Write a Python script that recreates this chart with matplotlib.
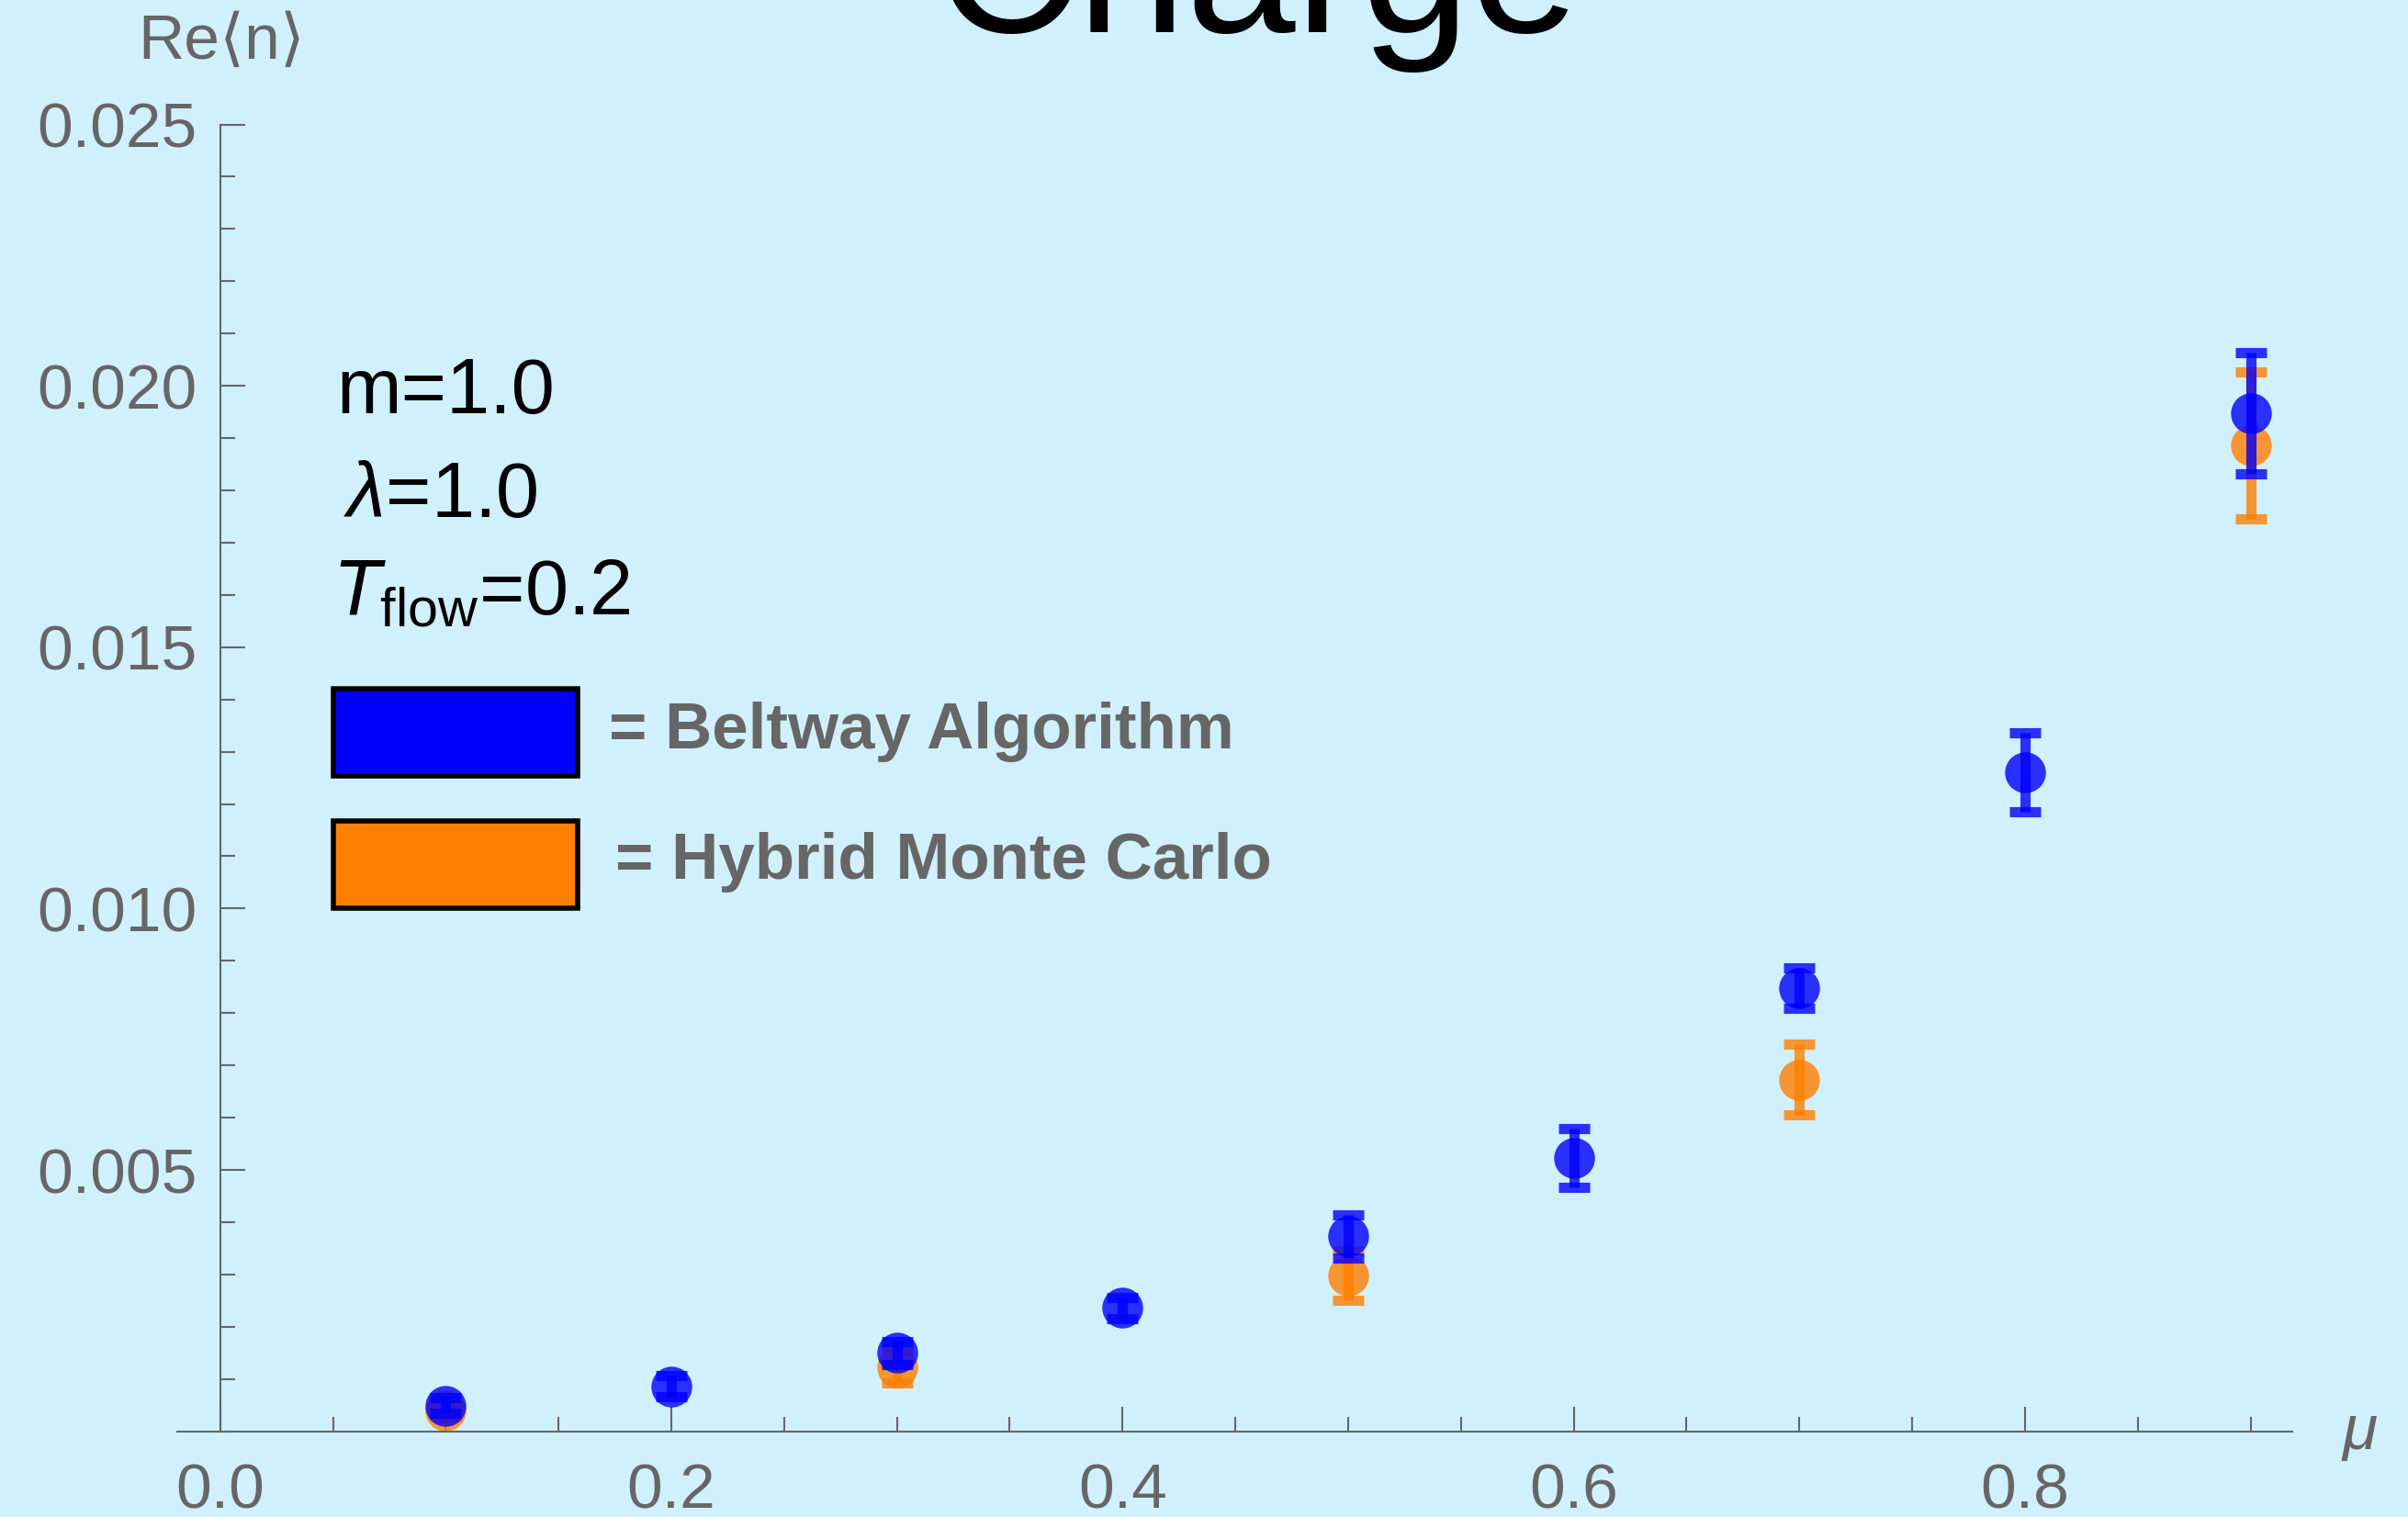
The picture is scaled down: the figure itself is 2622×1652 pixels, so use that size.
import matplotlib
matplotlib.use('Agg')
import matplotlib.pyplot as plt
from matplotlib.patches import Rectangle
from matplotlib.ticker import MultipleLocator, FixedLocator, FormatStrFormatter

plt.rcParams['font.family'] = ['Liberation Sans', 'DejaVu Sans']
plt.rcParams['mathtext.fontset'] = 'custom'
plt.rcParams['mathtext.rm'] = 'Liberation Sans'
plt.rcParams['mathtext.it'] = 'Liberation Sans:italic'

# data
mu_beltway = [0.1, 0.2, 0.3, 0.4, 0.5, 0.6, 0.7, 0.8, 0.9]
n_beltway = [0.00049, 0.00086, 0.00150, 0.00236, 0.00373, 0.00523, 0.00848, 0.01261, 0.01948]
err_beltway = [0.00015, 0.00020, 0.00022, 0.00020, 0.00041, 0.00056, 0.00039, 0.00075, 0.00116]

mu_hmc = [0.1, 0.3, 0.5, 0.7, 0.9]
n_hmc = [0.00039, 0.00123, 0.00298, 0.00673, 0.01886]
err_hmc = [0.00012, 0.00031, 0.00047, 0.00067, 0.00140]

xticks = [0.0, 0.2, 0.4, 0.6, 0.8]
yticks = [0.005, 0.010, 0.015, 0.020, 0.025]

bg = '#d1f0fd'
gray = '#666666'
W, H = 2622, 1652


def px(x, y):
    # pixel position (from top-left) -> figure fraction
    return x / W, 1 - y / H


fig = plt.figure(figsize=(W / 100, H / 100), dpi=100, facecolor=bg)
ax = fig.add_axes([193 / W, 1 - 1558.7 / H, (2496 - 193) / W, (1558.7 - 135.5) / H])
ax.set_facecolor('none')

for mu, n, err, col in [(mu_hmc, n_hmc, err_hmc, '#ff8000'),
                        (mu_beltway, n_beltway, err_beltway, '#0000ff')]:
    ax.errorbar(mu, n, yerr=err, fmt='none', ecolor=col, elinewidth=8,
                capsize=12, capthick=8, alpha=0.8, clip_on=False)
    ax.plot(mu, n, 'o', color=col, markersize=32, markeredgewidth=0,
            alpha=0.8, clip_on=False)

ax.set_xlim(-0.019, 0.9185)
ax.set_ylim(0, 0.025)

for s in ['top', 'right']:
    ax.spines[s].set_visible(False)
ax.spines['left'].set_position(('data', 0))
ax.spines['bottom'].set_position(('data', 0))
ax.spines['left'].set_bounds(0, 0.025)
for s in ['left', 'bottom']:
    ax.spines[s].set_color(gray)
    ax.spines[s].set_linewidth(1.5)

ax.xaxis.set_major_locator(FixedLocator(xticks))
ax.xaxis.set_minor_locator(MultipleLocator(0.05))
ax.xaxis.set_major_formatter(FormatStrFormatter('%.1f'))
ax.yaxis.set_major_locator(FixedLocator(yticks))
ax.yaxis.set_minor_locator(MultipleLocator(0.001))
ax.yaxis.set_major_formatter(FormatStrFormatter('%.3f'))

ax.tick_params(which='both', direction='in', color=gray, width=1.5,
               labelcolor=gray, labelsize=50)
ax.tick_params(which='major', length=19.5)
ax.tick_params(which='minor', length=11.5)
ax.tick_params(axis='x', pad=24)
ax.tick_params(axis='y', pad=18)

# axis labels
fig.text(*px(241, 64), 'Re⟨n⟩', ha='center', va='baseline', fontsize=50, color=gray)
fig.text(*px(2550, 1578), 'μ', ha='left', va='baseline', fontsize=50, color=gray,
         style='italic')

# title, cut off at the top
fig.text(*px(1369, 35), 'Charge', ha='center', va='baseline', fontsize=154, color='black')

# parameters
fig.text(*px(366, 450), 'm=1.0', ha='left', va='baseline', fontsize=61, color='black')
fig.text(*px(374, 563), r'$\lambda$=1.0', ha='left', va='baseline', fontsize=61, color='black')
fig.text(*px(362, 669), r'$T_{\rm flow}$=0.2', ha='left', va='baseline', fontsize=61, color='black')

# legend boxes
for (y0, y1), col, label, tx, ty in [((750, 845), '#0000ff', '= Beltway Algorithm', 663, 815),
                                     ((894, 989), '#ff8000', '= Hybrid Monte Carlo', 670, 957)]:
    x0, yb = px(363, y1)
    x1, yt = px(629, y0)
    fig.patches.append(Rectangle((x0, yb), x1 - x0, yt - yb, transform=fig.transFigure,
                                 facecolor=col, edgecolor='black', linewidth=4))
    fig.text(*px(tx, ty), label, ha='left', va='baseline', fontsize=51,
             fontweight='bold', color=gray)

fig.savefig('out.png', dpi=100, facecolor=bg)
